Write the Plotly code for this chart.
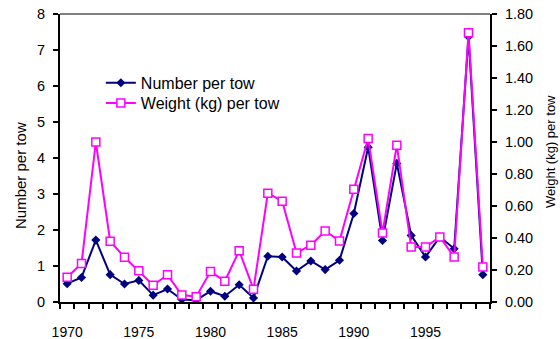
import plotly.graph_objects as go

years = list(range(1970, 2000))
number_per_tow = [0.51, 0.68, 1.72, 0.76, 0.50, 0.60, 0.19, 0.36, 0.07, 0.05,
                  0.30, 0.16, 0.48, 0.11, 1.27, 1.25, 0.86, 1.14, 0.90, 1.16,
                  2.46, 4.30, 1.71, 3.85, 1.85, 1.25, 1.81, 1.48, 7.37, 0.76]
weight_per_tow = [0.155, 0.24, 1.00, 0.38, 0.28, 0.195, 0.105, 0.17, 0.044, 0.033,
                  0.19, 0.13, 0.32, 0.08, 0.68, 0.63, 0.307, 0.355, 0.444, 0.382,
                  0.705, 1.022, 0.432, 0.980, 0.344, 0.344, 0.407, 0.282, 1.683, 0.219]
x_labels = [1970, 1975, 1980, 1985, 1990, 1995]

FONT = "Liberation Sans, Arial, sans-serif"

fig = go.Figure()
fig.add_trace(go.Scatter(
    x=years, y=number_per_tow, name="Number per tow", mode="lines+markers",
    line=dict(color="#000080", width=2),
    marker=dict(symbol="diamond", size=7, color="#000080"),
    yaxis="y", legend="legend",
))
fig.add_trace(go.Scatter(
    x=years, y=weight_per_tow, name="Weight (kg) per tow", mode="lines+markers",
    line=dict(color="#FF00FF", width=2),
    marker=dict(symbol="square", size=8, color="white",
                line=dict(color="#FF00FF", width=1.5)),
    yaxis="y2", legend="legend2",
))

legend_style = dict(xanchor="left", yanchor="top", bgcolor="rgba(0,0,0,0)",
                    font=dict(size=16))

fig.update_layout(
    width=560, height=339,
    margin=dict(l=60, r=70, t=14, b=37),
    paper_bgcolor="white", plot_bgcolor="white",
    font=dict(family=FONT, size=14, color="black"),
    showlegend=True,
    legend=dict(x=0.095, y=0.82, **legend_style),
    legend2=dict(x=0.095, y=0.75, **legend_style),
    xaxis=dict(
        range=[1969.5, 1999.5], tickvals=x_labels, ticks="",
        ticklabelstandoff=16, automargin=False,
        showgrid=False, zeroline=False,
        showline=True, linecolor="black", linewidth=2,
        minor=dict(tick0=0.5, dtick=1, ticks="outside", ticklen=5,
                   tickcolor="black", tickwidth=2, showgrid=False),
        tickfont=dict(size=14),
    ),
    yaxis=dict(
        range=[0, 8], dtick=1, ticks="outside", ticklen=5, tickwidth=2,
        tickcolor="black", ticklabelstandoff=5, automargin=False,
        showgrid=False, zeroline=False,
        showline=True, linecolor="black", linewidth=2,
        tickfont=dict(size=14.5),
    ),
    yaxis2=dict(
        range=[0, 1.8], dtick=0.2, tickformat=".2f", overlaying="y", side="right",
        ticks="outside", ticklen=5, tickwidth=2, tickcolor="black",
        ticklabelstandoff=5, automargin=False,
        showgrid=False, zeroline=False,
        showline=True, linecolor="black", linewidth=2,
        tickfont=dict(size=14.5),
    ),
    shapes=[dict(type="line", xref="paper", yref="paper", x0=0, x1=1, y0=1, y1=1,
                 line=dict(color="#808080", width=2))],
    annotations=[
        dict(text="Number per tow", textangle=-90, xref="paper", yref="paper",
             x=-0.0907, y=0.441, xanchor="center", yanchor="middle",
             showarrow=False, font=dict(size=15)),
        dict(text="Weight (kg) per tow", textangle=-90, xref="paper", yref="paper",
             x=1.1419, y=0.521, xanchor="center", yanchor="middle",
             showarrow=False, font=dict(size=13)),
    ],
)

fig.write_html("out.html")
